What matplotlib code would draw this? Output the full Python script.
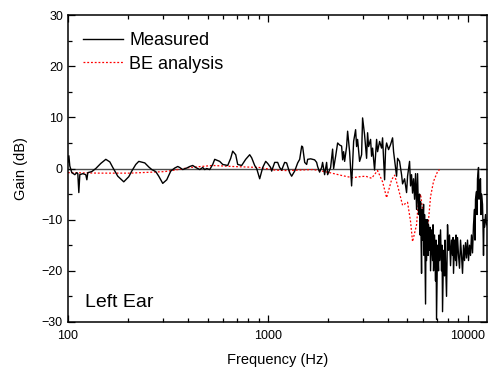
import matplotlib
matplotlib.use("Agg")
import matplotlib.pyplot as plt
from matplotlib.ticker import FixedLocator, MultipleLocator, NullFormatter, LogLocator

plt.rcParams["font.family"] = ["Liberation Sans", "DejaVu Sans"]

# measured response, frequency (Hz) and gain (dB)
measured_freq = [
    100, 101.2, 102.3, 104.7, 108.4, 110.9, 112.2, 113.5, 114.8, 118.9,
    123.0, 124.5, 125.9, 131.8, 138.0, 146.2, 154.9, 162.2, 167.9, 177.8,
    190.5, 201.8, 208.9, 218.8, 226.5, 242.7, 254.2, 263.0, 275.4, 285.1,
    298.5, 312.6, 327.3, 342.8, 354.8, 363.1, 375.8, 393.5, 407.4, 421.7,
    436.5, 457.1, 473.2, 484.2, 495.5, 512.9, 530.9, 543.3, 575.4, 595.6,
    631.0, 653.1, 668.4, 691.9, 707.9, 741.2, 776.2, 812.8, 831.7, 861.0,
    881.0, 912.1, 944.2, 977.3, 1000, 1035, 1047, 1084, 1122, 1148,
    1175, 1216, 1244, 1288, 1318, 1365, 1413, 1446, 1480, 1497,
    1532, 1567, 1585, 1641, 1679, 1718, 1758, 1778, 1819, 1862,
    1883, 1927, 1972, 1995, 2065, 2113, 2138, 2188, 2239, 2291,
    2344, 2372, 2399, 2427, 2483, 2512, 2570, 2630, 2661, 2692,
    2754, 2786, 2818, 2884, 2951, 2985, 3054, 3126, 3162, 3199,
    3273, 3311, 3350, 3427, 3508, 3548, 3631, 3715, 3758, 3846,
    3890, 3936, 4027, 4121, 4217, 4266, 4315, 4416, 4467, 4571,
    4677, 4732, 4842, 4955, 5012, 5129, 5188, 5248, 5309, 5370,
    5433, 5495, 5559, 5623, 5689, 5754, 5788, 5821, 5888, 5922,
    5957, 6026, 6061, 6095, 6166, 6202, 6237, 6310, 6346, 6383,
    6457, 6494, 6531, 6607, 6683, 6722, 6761, 6839, 6918, 6958,
    6998, 7079, 7161, 7202, 7244, 7328, 7413, 7456, 7499, 7586,
    7674, 7718, 7762, 7852, 7943, 8035, 8128, 8222, 8318, 8414,
    8463, 8511, 8610, 8710, 8760, 8810, 8913, 9016, 9120, 9226,
    9333, 9441, 9550, 9661, 9772, 9886, 10000, 10116, 10233, 10351,
    10471, 10593, 10715, 10839, 10902, 10965, 11092, 11156, 11220, 11350,
    11416, 11482, 11615, 11682, 11749, 11885, 11954, 12023, 12092, 12162,
    12303, 12445,
]
measured_gain = [
    1.2, 2.5, 0.5, -0.8, -1.2, -0.8, -1.0, -4.7, -1.2, -1.0,
    -1.2, -2.2, -0.8, -0.6, 0.0, 1.0, 1.8, 1.3, 0.2, -1.5,
    -2.6, -1.6, -0.5, 0.8, 1.4, 1.1, 0.3, -0.2, -0.6, -1.5,
    -2.9, -2.2, -0.5, 0.1, 0.4, 0.2, -0.2, 0.1, 0.4, 0.6,
    0.2, -0.2, 0.2, -0.2, 0.0, -0.2, 0.8, 1.8, 1.4, 0.8,
    0.6, 2.0, 3.4, 2.7, 0.8, 0.6, 1.8, 2.7, 2.1, 0.6,
    0.0, -2.0, 0.2, 1.4, 1.0, 0.2, -0.5, 1.2, 1.2, 0.2,
    -0.3, 1.2, 1.1, -0.8, -1.5, -0.5, 1.1, 1.8, 4.4, 4.2,
    1.2, 0.8, 1.8, 1.9, 1.8, 1.7, 1.2, 0.4, -0.7, 0.2,
    1.2, -1.2, 1.2, -1.2, 0.2, 3.8, 0.0, 2.4, 5.0, 4.6,
    4.4, 1.7, 3.3, 1.4, 4.3, 7.3, 3.3, -3.4, 1.2, 5.3,
    7.6, 4.3, 5.7, 1.4, 2.7, 9.9, 6.6, 2.0, 7.0, 4.3,
    5.7, 2.4, 4.0, -0.3, 5.7, 3.3, 5.3, 4.0, 6.0, -2.2,
    3.7, 5.0, 3.7, 4.7, 6.0, 3.3, 1.7, -1.5, 2.0, 1.4,
    -1.2, -3.0, -2.0, -4.7, -1.5, 1.4, -3.4, -1.2, -4.8, -2.0,
    -6.0, -1.0, -8.0, -1.0, -9.0, -5.0, -13.0, -6.5, -20.5, -8.0,
    -14.0, -7.0, -17.0, -9.0, -26.5, -10.0, -18.0, -10.0, -17.0, -11.0,
    -16.0, -11.5, -20.0, -12.0, -18.0, -11.0, -20.0, -13.0, -22.0, -14.0,
    -29.5, -15.0, -20.0, -13.0, -18.0, -12.0, -20.0, -15.0, -28.0, -16.0,
    -21.0, -14.0, -18.0, -25.0, -11.0, -16.0, -13.0, -19.0, -14.0, -17.0,
    -13.5, -20.5, -14.0, -18.0, -13.0, -19.0, -13.5, -17.0, -19.5, -14.0,
    -17.0, -20.5, -15.0, -18.0, -14.5, -17.5, -14.0, -18.0, -15.0, -17.0,
    -13.0, -16.5, -11.0, -8.0, -14.0, -6.0, -4.5, -9.0, -2.0, 0.2,
    -6.0, -3.0, -2.0, -9.0, -5.0, -7.0, -11.0, -17.0, -10.0, -11.5,
    -9.0, -11.0,
]

# boundary element prediction
be_freq = [
    100, 144.5, 204.2, 305.4, 342.8, 407.4, 530.9, 668.4, 912.1, 1084,
    1244, 1446, 1679, 1819, 2042, 2372, 2661, 2884, 3090, 3311,
    3548, 3758, 3936, 4169, 4315, 4467, 4732, 5012, 5188, 5309,
    5559, 5689, 5821, 5957, 6095, 6237, 6383, 6531, 6761, 7079,
    7244,
]
be_gain = [
    -0.8, -0.9, -0.9, -0.6, -0.3, 0.2, 0.6, 0.4, 0.2, -0.3,
    -0.4, -0.3, -0.2, -0.4, -0.8, -1.4, -1.8, -1.6, -1.5, -1.9,
    -0.4, -2.6, -5.7, -2.2, -1.3, -3.3, -7.2, -6.6, -10.4, -14.3,
    -11.0, -6.0, -5.0, -8.0, -12.0, -15.5, -10.0, -5.5, -2.5, -0.6,
    -0.2,
]

x_ticks = [100, 1000, 10000]
x_tick_labels = ["100", "1000", "10000"]
y_ticks = [-30, -20, -10, 0, 10, 20, 30]


def main():
    fig = plt.figure(figsize=(4.88, 3.70), dpi=100)
    ax = fig.add_axes([0.139, 0.130, 0.858, 0.829])

    ax.axhline(0, color="0.3", linewidth=1.0, zorder=1)
    ax.plot(measured_freq, measured_gain, color="black", linewidth=1.0,
            label="Measured", zorder=3)
    ax.plot(be_freq, be_gain, color="red", linestyle=(0, (1.5, 1.5)),
            linewidth=0.9, label="BE analysis", zorder=2)

    ax.set_xscale("log")
    ax.set_xlim(100, 12450)
    ax.set_ylim(-30, 30)
    ax.xaxis.set_major_locator(FixedLocator(x_ticks))
    ax.set_xticklabels(x_tick_labels)
    ax.xaxis.set_minor_locator(LogLocator(base=10, subs=range(2, 10)))
    ax.xaxis.set_minor_formatter(NullFormatter())
    ax.set_yticks(y_ticks)
    ax.yaxis.set_minor_locator(MultipleLocator(5))

    ax.tick_params(which="both", direction="in", top=True, right=True,
                   labelsize=9, width=0.9)
    ax.tick_params(which="major", length=5)
    ax.tick_params(axis="x", which="major", pad=6)
    ax.tick_params(which="minor", length=3)
    for spine in ax.spines.values():
        spine.set_linewidth(1.1)

    ax.set_xlabel("Frequency (Hz)", fontsize=10.5, labelpad=8)
    ax.set_ylabel("Gain (dB)", fontsize=10.5, labelpad=10)

    ax.legend(loc="upper left", frameon=False, fontsize=13,
              handlelength=2.2, handletextpad=0.35, labelspacing=0.35,
              borderaxespad=0.0, bbox_to_anchor=(0.02, 0.968))
    ax.text(0.04, 0.05, "Left Ear", transform=ax.transAxes, fontsize=14)

    fig.savefig("out.png", dpi=100)


if __name__ == "__main__":
    main()
